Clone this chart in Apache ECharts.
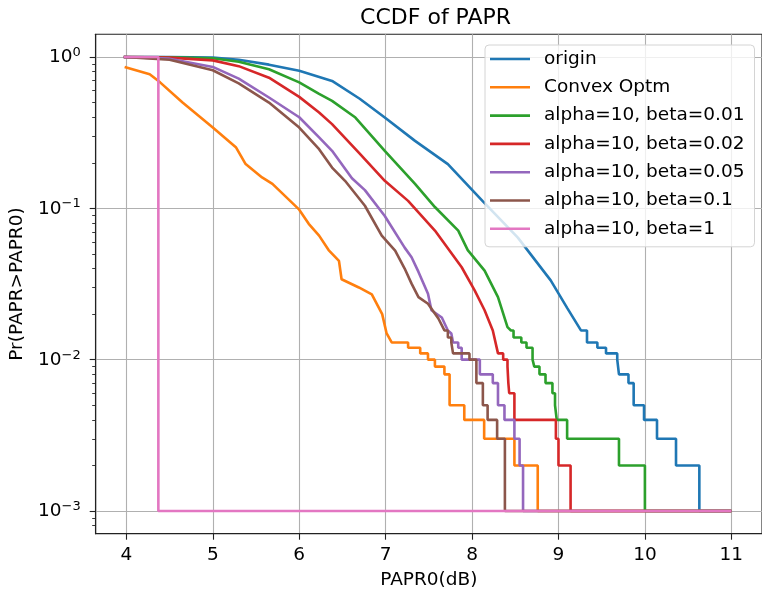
<!DOCTYPE html>
<html>
<head>
<meta charset="utf-8">
<script src="https://cdn.jsdelivr.net/npm/echarts@6/dist/echarts.min.js"></script>
<style>
  html, body { margin: 0; padding: 0; background: #fff; }
  #chart { width: 762px; height: 596px; }
</style>
</head>
<body>
<div id="chart"></div>
<script>
// 数据：平滑段 + 尾部阶梯（阶梯处 x 之后取新值）
const X_END = 11;

const originX = [3.97, 4.5, 5.0, 5.3, 5.65, 6.0, 6.38, 6.7, 6.99, 7.34, 7.72, 8.12, 8.53, 8.91, 9.1, 9.26];
const originY = [1.0, 0.999, 0.99, 0.96, 0.89, 0.81, 0.695, 0.53, 0.398, 0.279, 0.196, 0.112, 0.064, 0.0334, 0.022, 0.0156];
const originStepX = [9.33, 9.45, 9.55, 9.68, 9.70, 9.81, 9.87, 9.99, 10.14, 10.36, 10.63];
const originStepY = [0.013, 0.012, 0.011, 0.010, 0.008, 0.007, 0.005, 0.004, 0.003, 0.002, 0.001];

const convexX = [3.98, 4.27, 4.39, 4.65, 5.0, 5.27, 5.38, 5.57, 5.69, 6.0, 6.11, 6.23, 6.34, 6.46, 6.49, 6.69, 6.84, 6.96, 7.01, 7.07, 7.15];
const convexY = [0.86, 0.77, 0.68, 0.50, 0.342, 0.252, 0.196, 0.16, 0.145, 0.098, 0.079, 0.066, 0.053, 0.045, 0.034, 0.030, 0.027, 0.020, 0.015, 0.013, 0.013];
const convexStepX = [7.26, 7.40, 7.49, 7.57, 7.68, 7.74, 7.91, 8.14, 8.49, 8.76];
const convexStepY = [0.012, 0.011, 0.010, 0.009, 0.008, 0.005, 0.004, 0.003, 0.002, 0.001];

const b001X = [3.97, 4.5, 5.0, 5.3, 5.65, 6.0, 6.23, 6.38, 6.65, 6.99, 7.34, 7.57, 7.84, 7.95, 8.145, 8.30, 8.41, 8.45];
const b001Y = [1.0, 0.997, 0.98, 0.93, 0.83, 0.68, 0.57, 0.513, 0.398, 0.24, 0.145, 0.102, 0.0713, 0.053, 0.0388, 0.0259, 0.0164, 0.0156];
const b001StepX = [8.48, 8.57, 8.63, 8.70, 8.72, 8.78, 8.85, 8.93, 8.96, 8.98, 9.10, 9.70, 10.0];
const b001StepY = [0.014, 0.013, 0.012, 0.010, 0.009, 0.008, 0.007, 0.006, 0.005, 0.004, 0.003, 0.002, 0.001];

const b002X = [3.97, 4.5, 5.0, 5.3, 5.65, 6.0, 6.23, 6.38, 6.7, 6.99, 7.26, 7.57, 7.88, 8.03, 8.145, 8.24, 8.30];
const b002Y = [1.0, 0.99, 0.95, 0.87, 0.73, 0.545, 0.43, 0.36, 0.23, 0.152, 0.112, 0.0713, 0.0408, 0.0287, 0.0212, 0.0156, 0.011];
const b002StepX = [8.36, 8.41, 8.42, 8.43, 8.49, 8.97, 9.00, 9.14];
const b002StepY = [0.010, 0.009, 0.007, 0.006, 0.004, 0.003, 0.002, 0.001];

const b005X = [3.97, 4.5, 5.0, 5.3, 5.65, 6.0, 6.23, 6.38, 6.61, 6.76, 6.99, 7.22, 7.30, 7.38, 7.49, 7.53, 7.65, 7.72, 7.76];
const b005Y = [1.0, 0.975, 0.86, 0.72, 0.54, 0.40, 0.294, 0.24, 0.158, 0.132, 0.089, 0.055, 0.0475, 0.038, 0.0273, 0.0212, 0.019, 0.0156, 0.0149];
const b005StepX = [7.78, 7.84, 7.88, 8.09, 8.24, 8.30, 8.375, 8.49, 8.55, 8.59];
const b005StepY = [0.013, 0.012, 0.010, 0.008, 0.007, 0.005, 0.004, 0.003, 0.002, 0.001];

const b01X = [3.97, 4.5, 5.0, 5.3, 5.65, 6.0, 6.23, 6.38, 6.53, 6.76, 6.955, 7.11, 7.22, 7.30, 7.38, 7.49, 7.61, 7.68];
const b01Y = [1.0, 0.96, 0.817, 0.67, 0.50, 0.342, 0.246, 0.186, 0.152, 0.104, 0.066, 0.0526, 0.040, 0.0318, 0.0259, 0.0234, 0.0187, 0.0156];
const b01StepX = [7.72, 7.76, 7.78, 7.97, 8.05, 8.125, 8.18, 8.29, 8.38];
const b01StepY = [0.014, 0.013, 0.011, 0.010, 0.007, 0.005, 0.004, 0.003, 0.001];

const b1X = [3.97];
const b1Y = [1.0];
const b1StepX = [4.37];
const b1StepY = [0.001];

const seriesNames = ['origin', 'Convex Optm', 'alpha=10, beta=0.01', 'alpha=10, beta=0.02',
  'alpha=10, beta=0.05', 'alpha=10, beta=0.1', 'alpha=10, beta=1'];
const colors = ['#1f77b4', '#ff7f0e', '#2ca02c', '#d62728', '#9467bd', '#8c564b', '#e377c2'];

const xTicks = [4, 5, 6, 7, 8, 9, 10, 11];
const yTicks = [0.001, 0.01, 0.1, 1];
const yMinorTicks = [0.0008, 0.0009,
  0.002, 0.003, 0.004, 0.005, 0.006, 0.007, 0.008, 0.009,
  0.02, 0.03, 0.04, 0.05, 0.06, 0.07, 0.08, 0.09,
  0.2, 0.3, 0.4, 0.5, 0.6, 0.7, 0.8, 0.9];
const yExp = { 0.001: '\u22123', 0.01: '\u22122', 0.1: '\u22121', 1: '0' };

// 平滑段 + 竖直阶梯
function buildCurve(xs, ys, stepX, stepY) {
  const pts = xs.map((x, i) => [x, ys[i]]);
  let prev = ys[ys.length - 1];
  stepX.forEach((x, i) => {
    pts.push([x, prev]);
    pts.push([x, stepY[i]]);
    prev = stepY[i];
  });
  pts.push([X_END, prev]);
  return pts;
}

const curves = [
  buildCurve(originX, originY, originStepX, originStepY),
  buildCurve(convexX, convexY, convexStepX, convexStepY),
  buildCurve(b001X, b001Y, b001StepX, b001StepY),
  buildCurve(b002X, b002Y, b002StepX, b002StepY),
  buildCurve(b005X, b005Y, b005StepX, b005StepY),
  buildCurve(b01X, b01Y, b01StepX, b01StepY),
  buildCurve(b1X, b1Y, b1StepX, b1StepY)
];

const FONT = 'DejaVu Sans';
const chart = echarts.init(document.getElementById('chart'), null, { renderer: 'canvas' });

const option = {
  backgroundColor: '#fff',
  animation: false,
  textStyle: { fontFamily: FONT },
  title: {
    text: 'CCDF of PAPR',
    left: 430.6,
    textAlign: 'center',
    top: 2,
    textStyle: { fontFamily: FONT, fontSize: 22, fontWeight: 'normal', color: '#000' }
  },
  grid: {
    left: 95.7,
    top: 34.3,
    width: 670,
    height: 499.4,
    show: true,
    borderColor: '#222',
    borderWidth: 1.1,
    backgroundColor: 'transparent'
  },
  legend: {
    left: 485,
    top: 45,
    orient: 'vertical',
    icon: 'rect',
    itemWidth: 40,
    itemHeight: 2.6,
    itemGap: 8.3,
    padding: [4, 10, 8, 5],
    backgroundColor: 'rgba(255,255,255,0.8)',
    borderColor: '#d4d4d4',
    borderWidth: 1,
    borderRadius: 4,
    textStyle: { fontFamily: FONT, fontSize: 18.5, color: '#000', lineHeight: 20, padding: [0, 0, 0, 9] },
    data: seriesNames
  },
  xAxis: {
    type: 'value',
    min: 3.645,
    max: 11.355,
    name: 'PAPR0(dB)',
    nameLocation: 'middle',
    nameGap: 37,
    nameTextStyle: { fontFamily: FONT, fontSize: 18.5, color: '#000' },
    axisLine: { show: true, onZero: false, lineStyle: { color: '#222', width: 1.1 } },
    axisTick: { show: true, length: 6, lineStyle: { color: '#222', width: 1.1 }, customValues: xTicks },
    axisLabel: { customValues: xTicks, margin: 12, fontFamily: FONT, fontSize: 18.5, color: '#000' },
    splitLine: { show: true, lineStyle: { color: '#b0b0b0', width: 1.1 } }
  },
  yAxis: [
    {
      type: 'log',
      min: 0.000708,
      max: 1.4125,
      name: 'Pr(PAPR>PAPR0)',
      nameLocation: 'middle',
      nameGap: 66,
      nameTextStyle: { fontFamily: FONT, fontSize: 18.5, color: '#000' },
      axisLine: { show: true, onZero: false, lineStyle: { color: '#222', width: 1.1 } },
      axisTick: { show: true, length: 6, lineStyle: { color: '#222', width: 1.1 }, customValues: yTicks },
      axisLabel: {
        customValues: yTicks,
        margin: 15,
        formatter: (v) => '{b|10}{s|' + (yExp[v] !== undefined ? yExp[v] : '') + '}',
        rich: {
          b: { fontFamily: FONT, fontSize: 18.5, color: '#000', lineHeight: 20, verticalAlign: 'bottom' },
          s: { fontFamily: FONT, fontSize: 13, color: '#000', lineHeight: 14, verticalAlign: 'bottom', padding: [0, 0, 8, 0] }
        }
      },
      splitLine: { show: true, lineStyle: { color: '#b0b0b0', width: 1.1 } }
    },
    {
      type: 'log',
      min: 0.000708,
      max: 1.4125,
      position: 'left',
      axisLine: { show: false },
      axisTick: { show: true, length: 3.5, lineStyle: { color: '#222', width: 0.9 }, customValues: yMinorTicks },
      axisLabel: { show: false },
      splitLine: { show: false }
    }
  ],
  series: curves.map((data, i) => ({
    name: seriesNames[i],
    type: 'line',
    data: data,
    showSymbol: false,
    symbol: 'none',
    color: colors[i],
    lineStyle: { color: colors[i], width: 2.6 },
    z: 2 + i * 0.01
  }))
};

chart.setOption(option);
</script>
</body>
</html>
